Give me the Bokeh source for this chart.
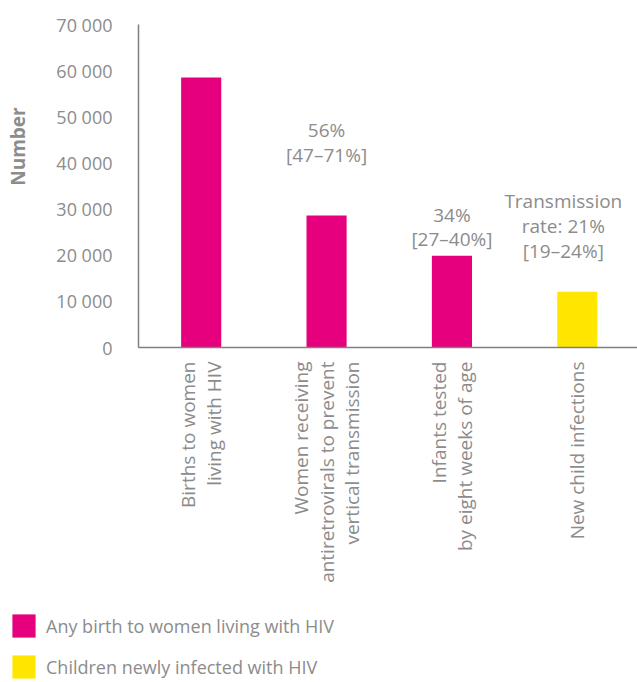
import math
from bokeh.plotting import figure
from bokeh.layouts import column
from bokeh.models import Range1d, Legend, LegendItem, ColumnDataSource, FixedTicker
from bokeh.core.properties import value
from bokeh.embed import file_html
from bokeh.resources import INLINE

# ---- data ----
categories = [
    "Births to women\nliving with HIV",
    "Women receiving\nantiretrovirals to prevent\nvertical transmission",
    "Infants tested\nby eight weeks of age",
    "New child infections",
]
values = [58500, 28600, 19900, 12100]
series_names = ["Any birth to women living with HIV", "Children newly infected with HIV"]
series_of_bar = [0, 0, 0, 1]
series_colors = ["#E6007E", "#FFE600"]

y_ticks = [0, 10000, 20000, 30000, 40000, 50000, 60000, 70000]
y_tick_labels = ["0", "10 000", "20 000", "30 000", "40 000", "50 000", "60 000", "70 000"]

annotation_bars = [1, 2, 3]
annotation_texts = ["56%\n[47\u201371%]", "34%\n[27\u201340%]", "Transmission\nrate: 21%\n[19\u201324%]"]
annotation_y = [44500, 26100, 26400]
annotation_dx = [0, 0, -14]

y_axis_title = "Number"

FONT = "Open Sans"
GREY = "#8c8c8c"

p = figure(width=637, height=605, output_backend="svg", toolbar_location=None,
           x_range=Range1d(-0.5, 3.48), y_range=Range1d(0, 70000),
           min_border_left=138, min_border_right=0, min_border_top=24, min_border_bottom=258)
p.frame_align = False
p.outline_line_color = None
p.xgrid.visible = False
p.ygrid.visible = False

bar_sources = []
for s, name in enumerate(series_names):
    xs = [i for i, k in enumerate(series_of_bar) if k == s]
    src = ColumnDataSource(dict(x=xs, top=[values[i] for i in xs]))
    bar_sources.append(src)
    p.vbar(x="x", top="top", width=0.32, bottom=0, source=src,
           fill_color=series_colors[s], line_color=None)

# annotations
asrc = ColumnDataSource(dict(x=annotation_bars, y=annotation_y, t=annotation_texts, dx=annotation_dx))
p.text(x="x", y="y", text="t", x_offset="dx", source=asrc, text_align="center", text_baseline="middle",
       text_font=value(FONT), text_font_size="19px", text_color=GREY, text_line_height=0.955)

# axes
xa = p.xaxis[0]
xa.ticker = FixedTicker(ticks=list(range(len(categories))))
xa.major_label_overrides = {i: c for i, c in enumerate(categories)}
xa.major_label_orientation = math.pi / 2
xa.major_label_text_font = FONT
xa.major_label_text_font_size = "19px"
xa.major_label_text_color = GREY
xa.major_label_text_line_height = 0.99
xa.major_label_standoff = 8
xa.major_tick_line_color = None
xa.minor_tick_line_color = None
xa.axis_line_color = "#7f7f7f"
xa.axis_line_width = 1.5

ya = p.yaxis[0]
ya.ticker = FixedTicker(ticks=y_ticks)
ya.major_label_overrides = {t: l for t, l in zip(y_ticks, y_tick_labels)}
ya.major_label_text_font = FONT
ya.major_label_text_font_size = "18px"
ya.major_label_text_color = GREY
ya.major_label_standoff = 20
ya.major_tick_line_color = None
ya.minor_tick_line_color = None
ya.axis_line_color = "#7f7f7f"
ya.axis_line_width = 1.5
ya.axis_label = "\u00a0" * 16 + y_axis_title
ya.axis_label_text_font = FONT
ya.axis_label_text_font_size = "19px"
ya.axis_label_text_font_style = "bold"
ya.axis_label_text_color = GREY
ya.axis_label_standoff = 22

# legend in its own strip below the chart
lf = figure(width=637, height=76, output_backend="svg", toolbar_location=None,
            x_range=Range1d(0, 1), y_range=Range1d(0, 1),
            x_axis_location=None, y_axis_location=None,
            min_border_left=0, min_border_right=0, min_border_top=0, min_border_bottom=0)
lf.frame_align = False
lf.outline_line_color = None
lf.xgrid.visible = False
lf.ygrid.visible = False
items = []
for s, name in enumerate(series_names):
    r = lf.vbar(x="x", top="top", width=0.32, source=bar_sources[s],
                fill_color=series_colors[s], line_color=None, visible=False)
    items.append(LegendItem(label=name, renderers=[r]))
legend = Legend(items=items, location=(9, 0), orientation="vertical",
                glyph_width=29, glyph_height=29, spacing=12, label_standoff=8,
                padding=0, margin=0, border_line_color=None, background_fill_alpha=0,
                inactive_fill_alpha=0,
                label_text_font=FONT, label_text_font_size="18px", label_text_color=GREY)
lf.add_layout(legend, "center")

open("out.html", "w").write(file_html(column(p, lf), INLINE))
